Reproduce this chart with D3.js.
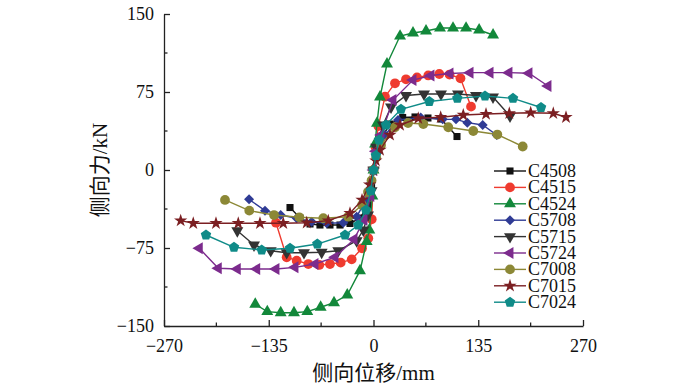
<!DOCTYPE html>
<html>
  <head>
    <meta charset="utf-8">
    <title>侧向力-侧向位移</title>
    <style>
      body { margin: 0; background: #fff; }
      text { font-family: "Liberation Serif", "Noto Sans CJK SC", serif; }
    </style>
  </head>
  <body>
    <script src="https://d3js.org/d3.v7.min.js"></script>
    <svg id="chart" width="700" height="390"></svg>
    <script>
      // legend order
      const seriesNames = ['C4508', 'C4515', 'C4524', 'C5708', 'C5715', 'C5724', 'C7008', 'C7015', 'C7024']
      const xTicks = [-270, -135, 0, 135, 270]
      const yTicks = [-150, -75, 0, 75, 150]

      // [displacement mm, force kN], negative end first
      const c4508 = [[-107.6,-36.1],[-94.7,-46.2],[-81.8,-51.9],[-69,-52.9],[-56.1,-52.9],[-43.2,-52.9],[-30.3,-51.4],[-17.4,-46.2],[-7.1,-33.7],[-2.5,-15],[0,0],[3,14],[8.4,28.8],[21.3,44.2],[37.6,50.5],[53.5,51],[70.2,50],[87,49],[107.6,32.2]]
      const c4515 = [[-125.7,-50.7],[-111.9,-83.9],[-99,-87.2],[-84,-90.4],[-69.9,-91.3],[-56.1,-90.4],[-42.3,-89.1],[-28.1,-85.9],[-14.8,-75.3],[-6.7,-65.7],[-2.3,-47.4],[0,0],[2.5,22],[6.2,42.3],[14.8,70.5],[27.7,83.4],[41.9,87.2],[56.1,89.1],[70.6,90.9],[84.8,92.3],[98,91.8],[112.1,88.2],[125.7,60.9]]
      const c4524 = [[-152.4,-129.1],[-136.9,-136.2],[-119.6,-137.2],[-102.5,-137.2],[-85.3,-136.2],[-68.1,-132],[-50.9,-127.6],[-33.8,-120.2],[-17.4,-96.8],[-8.8,-68.9],[-5.4,-57.7],[-1.5,-25],[0,0],[2,25],[4.5,45],[8.4,70.2],[17.4,101.9],[34.2,128.8],[50.9,131.7],[67.7,133.7],[85.7,136.5],[102.5,136.5],[119.3,136.5],[136.1,134.6],[154.1,129.8]]
      const c5708 = [[-160.4,-28.2],[-139.8,-39.1],[-119.6,-43.3],[-99,-46.4],[-79.7,-49.7],[-60.3,-51.2],[-38.9,-50.7],[-21.7,-44.9],[-9.7,-28.8],[-3,-12],[0,0],[4,16],[14.8,33.7],[31.6,48.1],[60.8,50.5],[89.2,48.7],[106.3,48.7],[120.9,45.5],[140.7,43.3],[158.8,33.7]]
      const c5715 = [[-175.5,-58.4],[-154,-72.1],[-132.5,-77.6],[-111.9,-79.5],[-89.6,-79.5],[-66.8,-79.1],[-45.4,-77.6],[-21.7,-68],[-13.1,-57.7],[-7.1,-43.3],[-2.5,-20],[0,0],[3.5,22],[12.2,43.3],[22.6,60.6],[41.9,71.6],[65.1,73.1],[87,73.1],[108.9,73.1],[132.1,71.6],[154,70.2],[175.9,51.9]]
      const c5724 = [[-224.5,-75.3],[-200,-94.5],[-175.5,-95.2],[-150.5,-95.2],[-125.7,-95.2],[-101.2,-93.6],[-75.4,-90.4],[-49.6,-83.9],[-25.1,-66.6],[-12.2,-48.1],[-3.5,-25],[0,0],[3,18],[9.7,33.7],[25.1,67.3],[50.9,86.5],[74.1,90.9],[98.6,92.8],[124.4,93.6],[150.2,93.6],[174.6,93.6],[200.4,93],[224.9,80.8]]
      const c7008 = [[-191.4,-28.8],[-160.1,-39.1],[-128.2,-43.3],[-95.6,-45.5],[-64.7,-46.4],[-32.5,-44.9],[-14.8,-33.7],[-7.1,-21.2],[-2.5,-10],[0,0],[3.5,12],[9.7,24],[27.7,41.1],[44.5,45.2],[64.2,44.2],[96.4,41.1],[128.6,37.5],[159.6,34.1],[192.3,22.6]]
      const c7015 = [[-248.5,-48.7],[-232.3,-51.2],[-203,-51.2],[-174.3,-51.2],[-146.3,-51.2],[-116.3,-51.2],[-86.1,-50.7],[-58.3,-48.7],[-30.3,-41.6],[-14.8,-28.8],[-5,-14],[0,0],[3,9],[8.4,19.2],[21.3,33.7],[34.2,43.3],[57.7,49.7],[86.6,50.7],[115.7,52.9],[145,53.8],[175,54.5],[202.6,55.1],[231.7,54.5],[248.1,50.7]]
      const c7024 = [[-215.9,-62.5],[-179.8,-74.3],[-144.1,-76.9],[-107.6,-75.3],[-72.4,-71.2],[-36.7,-62.5],[-19.6,-52.9],[-9.7,-38.5],[-3.5,-20],[0,0],[3,14],[7.1,28.8],[16.1,43.3],[35.4,58.4],[71.9,65.9],[108,68.9],[143.7,71.2],[179.8,68.9],[215.9,60.1]]

      const seriesData = [c4508, c4515, c4524, c5708, c5715, c5724, c7008, c7015, c7024]
      const colors = ['#111111', '#ef3b2f', '#12883a', '#2f3b95', '#333333', '#7c2b8d', '#8c8836', '#7b1f22', '#0f8b88']

      // pentagon marker (not in d3)
      const symbolPentagon = {
        draw(ctx, size) {
          const r = Math.sqrt(size / 2.378)
          for (let i = 0; i < 5; i++) {
            const a = -Math.PI / 2 + i * 2 * Math.PI / 5
            const px = r * Math.cos(a), py = r * Math.sin(a)
            if (i === 0) ctx.moveTo(px, py); else ctx.lineTo(px, py)
          }
          ctx.closePath()
        }
      }
      // marker type, size, rotation per series
      const markers = [
        [d3.symbolSquare, 50, 0],
        [d3.symbolCircle, 75, 0],
        [d3.symbolTriangle, 62, 0],
        [d3.symbolSquare, 50, 45],
        [d3.symbolTriangle, 62, 180],
        [d3.symbolTriangle, 62, -90],
        [d3.symbolCircle, 75, 0],
        [d3.symbolStar, 55, 0],
        [symbolPentagon, 72, 0]
      ]

      const svg = d3.select('#chart')
      const x = d3.scaleLinear().domain([-270, 270]).range([164, 583])
      const y = d3.scaleLinear().domain([-150, 150]).range([326, 14])

      // axes, ticks pointing inward
      svg.append('g')
        .attr('transform', `translate(0,${y(-150)})`)
        .call(d3.axisBottom(x).tickValues(xTicks).tickSize(-6).tickSizeOuter(0).tickPadding(13))
      svg.append('g')
        .attr('transform', `translate(${x(-270)},0)`)
        .call(d3.axisLeft(y).tickValues(yTicks).tickSize(-6).tickSizeOuter(0).tickPadding(10))

      // minor ticks
      svg.append('g').selectAll('line')
        .data(d3.range(-202.5, 270, 135))
        .join('line')
          .attr('x1', d => x(d)).attr('x2', d => x(d))
          .attr('y1', y(-150)).attr('y2', y(-150) - 3.5)
          .attr('stroke', '#222').attr('stroke-width', 1.3)
      svg.append('g').selectAll('line')
        .data(d3.range(-112.5, 150, 75))
        .join('line')
          .attr('x1', x(-270)).attr('x2', x(-270) + 3.5)
          .attr('y1', d => y(d)).attr('y2', d => y(d))
          .attr('stroke', '#222').attr('stroke-width', 1.3)

      svg.selectAll('.domain, .tick line').attr('stroke', '#222').attr('stroke-width', 1.3)
      svg.selectAll('.tick text').attr('font-size', 18).attr('fill', '#111')
        .style('font-family', '"Liberation Serif", serif')

      // axis titles
      svg.append('text')
        .attr('x', x(0)).attr('y', 380)
        .attr('text-anchor', 'middle')
        .attr('font-size', 21)
        .attr('fill', '#111')
        .text('侧向位移/mm')
      svg.append('text')
        .attr('transform', `translate(107,${y(0)}) rotate(-90)`)
        .attr('text-anchor', 'middle')
        .attr('font-size', 21)
        .attr('fill', '#111')
        .text('侧向力/kN')

      // curves
      const line = d3.line().x(d => x(d[0])).y(d => y(d[1]))
      seriesData.forEach((data, i) => {
        const g = svg.append('g')
        g.append('path')
          .datum(data)
          .attr('d', line)
          .attr('fill', 'none')
          .attr('stroke', colors[i])
          .attr('stroke-width', 1.4)
        const [type, size, rot] = markers[i]
        g.selectAll('path.m')
          .data(data)
          .join('path')
            .attr('class', 'm')
            .attr('d', d3.symbol().type(type).size(size))
            .attr('transform', d => `translate(${x(d[0])},${y(d[1])}) rotate(${rot})`)
            .attr('fill', colors[i])
      })

      // legend
      const legend = svg.append('g')
      seriesNames.forEach((name, i) => {
        const ly = 171 + i * 16.4
        legend.append('line')
          .attr('x1', 494).attr('x2', 526)
          .attr('y1', ly).attr('y2', ly)
          .attr('stroke', colors[i]).attr('stroke-width', 1.4)
        const [type, size, rot] = markers[i]
        legend.append('path')
          .attr('d', d3.symbol().type(type).size(size))
          .attr('transform', `translate(510,${ly}) rotate(${rot})`)
          .attr('fill', colors[i])
        legend.append('text')
          .attr('x', 528).attr('y', ly + 6)
          .attr('font-size', 18)
          .attr('fill', '#111')
          .text(name)
      })
    </script>
  </body>
</html>
